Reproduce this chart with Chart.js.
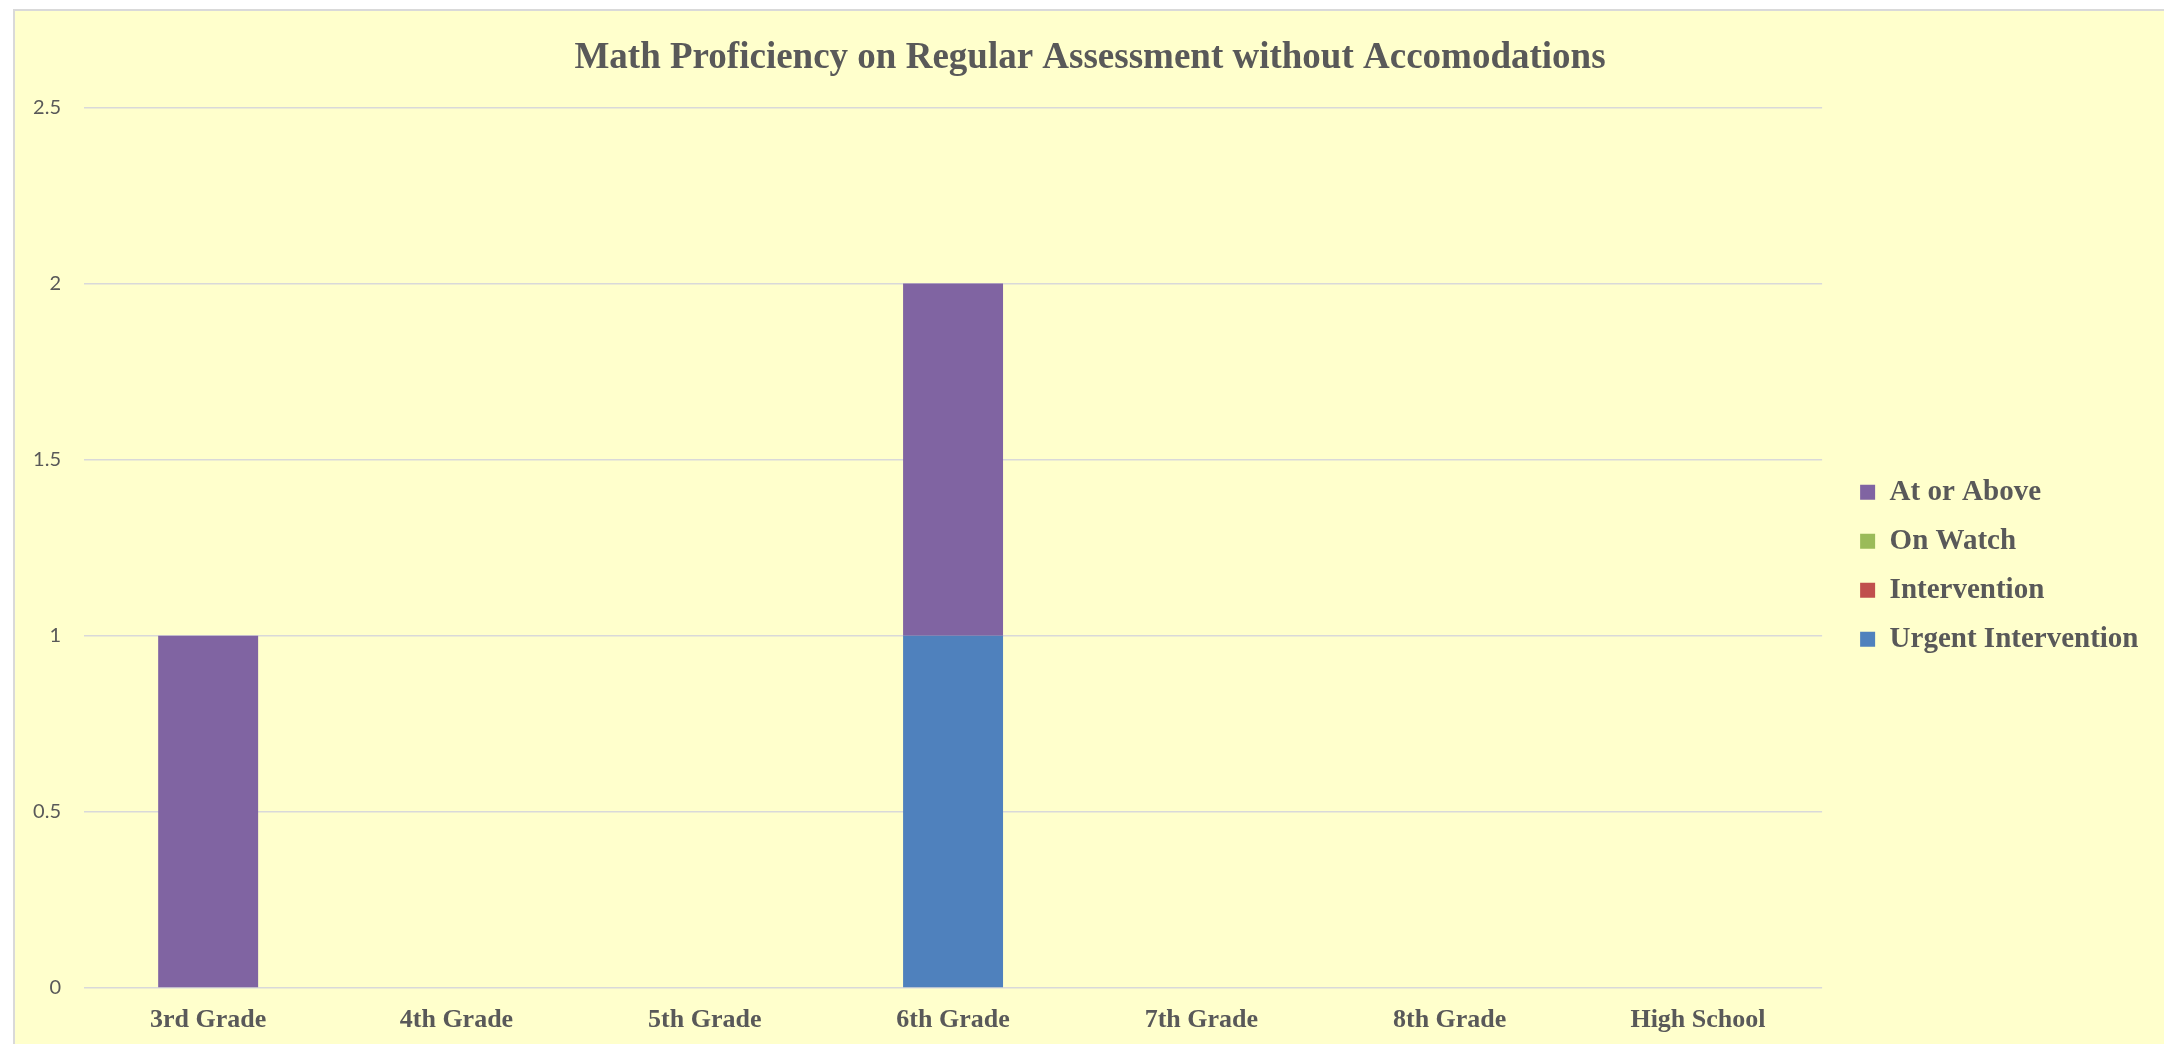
<!DOCTYPE html>
<html>
<head>
<meta charset="utf-8">
<script src="https://cdn.jsdelivr.net/npm/chart.js@4.4.1/dist/chart.umd.min.js"></script>
<style>
  html, body { margin: 0; padding: 0; background: #ffffff; overflow: hidden; width: 2164px; height: 1044px; }
  #frame { position: absolute; left: 13px; top: 9px; width: 2200px; height: 1100px; border: 2px solid #d9d9d9; background: #FFFFCC; }
  #c { position: absolute; left: 0; top: 0; }
</style>
</head>
<body>
<div id="frame"></div>
<canvas id="c" width="2164" height="1060"></canvas>
<script>
const chartTitle = "Math Proficiency on Regular Assessment without Accomodations";
const categories = ["3rd Grade", "4th Grade", "5th Grade", "6th Grade", "7th Grade", "8th Grade", "High School"];
const urgentIntervention = [0, 0, 0, 1, 0, 0, 0];
const intervention       = [0, 0, 0, 0, 0, 0, 0];
const onWatch            = [0, 0, 0, 0, 0, 0, 0];
const atOrAbove          = [1, 0, 0, 1, 0, 0, 0];
const yTickLabels = ["0", "0.5", "1", "1.5", "2", "2.5"];
const yMin = 0, yMax = 2.5, yStep = 0.5;

const textColor = "#595959";
const serif = "'Liberation Serif', 'Times New Roman', serif";

new Chart(document.getElementById("c"), {
  type: "bar",
  data: {
    labels: categories,
    datasets: [
      { label: "Urgent Intervention", data: urgentIntervention, backgroundColor: "#4F81BD" },
      { label: "Intervention", data: intervention, backgroundColor: "#C0504D" },
      { label: "On Watch", data: onWatch, backgroundColor: "#9BBB59" },
      { label: "At or Above", data: atOrAbove, backgroundColor: "#8064A2" }
    ]
  },
  options: {
    responsive: false,
    animation: false,
    devicePixelRatio: 1,
    layout: { padding: { top: 10, bottom: 8, left: 31.5, right: 15.5 } },
    datasets: {
      bar: { barPercentage: 0.4026, categoryPercentage: 1, borderWidth: 0 }
    },
    plugins: {
      tooltip: { enabled: false },
      title: {
        display: true,
        text: chartTitle,
        color: textColor,
        font: { family: serif, size: 37, weight: "bold" },
        padding: { top: 26.5, bottom: 26.5 }
      },
      legend: {
        display: true,
        position: "right",
        fullSize: false,
        reverse: true,
        title: { display: true, text: " ", font: { size: 13, lineHeight: 1 }, padding: { top: 23, bottom: 0 } },
        labels: {
          boxWidth: 15,
          boxHeight: 15,
          padding: 20,
          color: textColor,
          font: { family: serif, size: 29, weight: "bold" }
        }
      }
    },
    scales: {
      x: {
        stacked: true,
        grid: { display: false, drawTicks: false },
        border: { display: false },
        ticks: {
          color: textColor,
          padding: 19,
          font: { family: serif, size: 26, weight: "bold", lineHeight: 1 },
          maxRotation: 0
        }
      },
      y: {
        stacked: true,
        min: yMin,
        max: yMax,
        border: { display: false },
        grid: { color: "#d9d9d9", lineWidth: 1.5, drawTicks: false },
        ticks: {
          stepSize: yStep,
          padding: 23,
          color: textColor,
          font: { family: "Lato, 'Open Sans', sans-serif", size: 20 },
          callback: (v, i) => yTickLabels[i]
        },
        afterFit: (s) => { s.width = 52.5; }
      },
      yR: {
        position: "right",
        display: true,
        grid: { display: false },
        border: { display: false },
        ticks: { display: false },
        afterFit: (s) => { s.width = 18; }
      }
    }
  }
});
</script>
</body>
</html>
